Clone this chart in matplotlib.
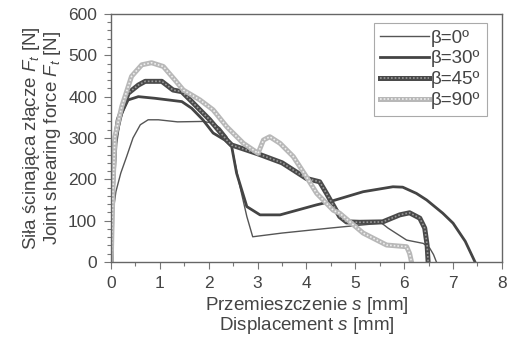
import matplotlib
matplotlib.use("Agg")
import matplotlib.pyplot as plt
from matplotlib.ticker import MultipleLocator

# Dane: przemieszczenie s [mm], siła F_t [N]
s_0 = [0, 0.03, 0.1, 0.2, 0.32, 0.45, 0.6, 0.76, 0.97, 1.36, 1.88, 2.09, 2.23, 2.37, 2.47,
       2.64, 2.78, 2.9, 3.5, 4.48, 5.0, 5.54, 5.67, 6.05, 6.39, 6.52, 6.6, 6.66]
F_0 = [0, 110, 170, 215, 255, 300, 332, 344, 344, 339, 340, 336, 324, 303, 279,
       182, 110, 61, 70, 82, 88, 94, 82, 53, 45, 34, 18, 0]

s_30 = [0, 0.02, 0.08, 0.22, 0.35, 0.56, 0.9, 1.45, 1.65, 1.88, 2.09, 2.33, 2.47, 2.57,
        2.78, 3.05, 3.46, 4.2, 4.48, 5.16, 5.77, 5.97, 6.25, 6.46, 6.79, 7.0, 7.25, 7.45]
F_30 = [0, 150, 290, 360, 392, 400, 396, 388, 372, 344, 312, 295, 279, 215,
        134, 114, 114, 138, 146, 170, 182, 181, 166, 150, 118, 94, 50, 0]

s_45 = [0, 0.02, 0.08, 0.15, 0.35, 0.56, 0.7, 1.04, 1.27, 1.45, 1.62, 2.02, 2.37, 2.47,
        3.0, 3.5, 4.0, 4.27, 4.41, 4.68, 4.82, 5.09, 5.56, 5.91, 6.11, 6.32, 6.42, 6.47, 6.49]
F_45 = [0, 160, 287, 344, 408, 428, 437, 437, 416, 412, 392, 344, 295, 283,
        262, 240, 202, 194, 166, 110, 97, 96, 97, 114, 119, 106, 82, 40, 0]

s_90 = [0, 0.01, 0.04, 0.08, 0.22, 0.42, 0.63, 0.83, 1.07, 1.31, 1.48, 1.82, 2.09, 2.37,
        2.71, 3.01, 3.12, 3.25, 3.46, 3.73, 4.0, 4.21, 4.55, 4.68, 5.16, 5.64, 6.05,
        6.11, 6.15]
F_90 = [0, 29, 180, 303, 376, 449, 477, 482, 473, 440, 416, 392, 368, 327,
        287, 263, 295, 303, 287, 255, 206, 166, 125, 118, 70, 41, 37, 21, 0]

plt.rcParams['font.family'] = ['Liberation Sans', 'DejaVu Sans']
plt.rcParams['mathtext.fontset'] = 'custom'
plt.rcParams['mathtext.it'] = 'Liberation Sans:italic'
plt.rcParams['mathtext.rm'] = 'Liberation Sans'

txt = '#444444'
fig = plt.figure(figsize=(5.08, 3.49), dpi=100)
ax = fig.add_axes([0.2185, 0.2493, 0.7695, 0.7107])

l0, = ax.plot(s_0, F_0, color='#555555', lw=1.0)
l30, = ax.plot(s_30, F_30, color='#444444', lw=2.0)
l45a, = ax.plot(s_45, F_45, color='#4a4a4a', lw=3.6)
l45b, = ax.plot(s_45, F_45, color='#9a9a9a', lw=1.2, ls=(0, (1, 1.2)))
l90a, = ax.plot(s_90, F_90, color='#b8b8b8', lw=3.6)
l90b, = ax.plot(s_90, F_90, color='#eeeeee', lw=1.2, ls=(0, (1, 1.2)))

ax.set_xlim(0, 8)
ax.set_ylim(0, 600)
ax.xaxis.set_major_locator(MultipleLocator(1))
ax.xaxis.set_minor_locator(MultipleLocator(0.5))
ax.yaxis.set_major_locator(MultipleLocator(100))
ax.yaxis.set_minor_locator(MultipleLocator(20))
ax.tick_params(which='both', direction='out', colors='#777777', labelcolor=txt,
               labelsize=12.5, width=0.8)
ax.tick_params(which='major', length=5, pad=5)
ax.tick_params(which='minor', length=3)
for sp in ax.spines.values():
    sp.set_color('#666666')
    sp.set_linewidth(1.0)

ax.set_xlabel('Przemieszczenie $\\mathit{s}$ [mm]\nDisplacement $\\mathit{s}$ [mm]',
              fontsize=13.5, color=txt, linespacing=0.95, labelpad=3)
ax.set_ylabel('Siła ścinająca złącze $F_t$ [N]\nJoint shearing force $F_t$ [N]',
              fontsize=13.5, color=txt, linespacing=0.95, labelpad=4)

leg = ax.legend([l0, l30, (l45a, l45b), (l90a, l90b)],
                ['β=0º', 'β=30º', 'β=45º', 'β=90º'],
                loc='upper right', bbox_to_anchor=(0.962, 0.964), fontsize=13.5,
                handlelength=2.6, handletextpad=0.1, labelspacing=0.2,
                borderpad=0.35, borderaxespad=0, fancybox=False, framealpha=1,
                labelcolor=txt)
leg.get_frame().set_edgecolor('#aaaaaa')
leg.get_frame().set_linewidth(0.8)

fig.savefig('out.png', dpi=100)
